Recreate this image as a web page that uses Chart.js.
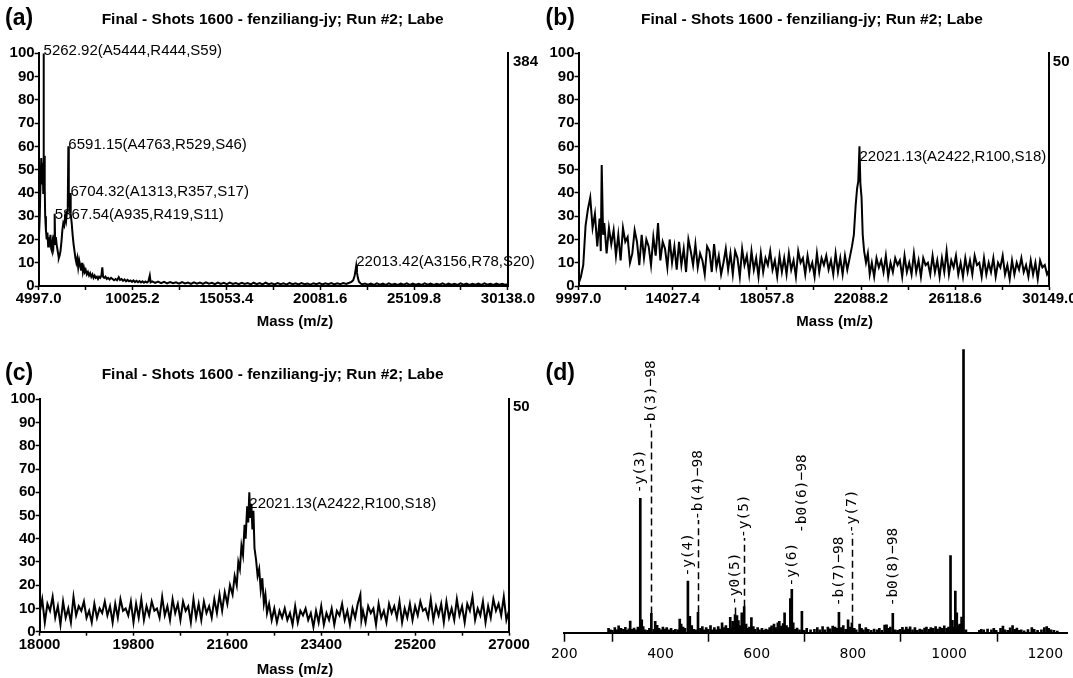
<!DOCTYPE html>
<html lang="en">
<head>
<meta charset="UTF-8" />
<title>MALDI-TOF spectra (a)-(d)</title>
<script src="https://cdn.jsdelivr.net/npm/chart.js"></script>
<style>
  body { margin: 0; background: #fff; }
  #wrap { position: relative; width: 1073px; height: 678px; overflow: hidden; background: #fff; }
  canvas { position: absolute; }
</style>
</head>
<body>
<div id="wrap">
  <canvas id="chartA" width="540" height="330" style="left:0;top:0"></canvas>
  <canvas id="chartB" width="543" height="330" style="left:530px;top:0"></canvas>
  <canvas id="chartC" width="540" height="348" style="left:0;top:330px"></canvas>
  <canvas id="chartD" width="543" height="348" style="left:530px;top:330px"></canvas>
</div>
<script>
const FONT = '"Liberation Sans", Arial, sans-serif';
const TITLE = 'Final - Shots 1600 - fenziliang-jy; Run #2; Labe';

// ---- panel (a) ----
const massA = [
  5000,5010,5060,5100,5140,5180,5215,5245,5263,5280,
  5300,5325,5350,5390,5430,5470,5510,5550,5590,5630,
  5670,5710,5750,5790,5830,5850,5867,5885,5920,5960,
  6000,6040,6080,6120,6170,6220,6270,6320,6370,6420,
  6470,6520,6560,6591,6615,6650,6680,6704,6730,6770,
  6820,6870,6920,6970,7020,7070,7120,7170,7220,7270,
  7320,7370,7420,7470,7520,7580,7640,7700,7760,7820,
  7880,7940,8000,8060,8120,8180,8240,8300,8360,8410,
  8450,8510,8580,8650,8720,8800,8880,8960,9040,9120,
  9200,9290,9360,9440,9520,9600,9680,9760,9840,9920,
  10000,10080,10160,10240,10320,10400,10480,10560,10640,10720,
  10800,10880,10954,11000,11080,11240,11400,11560,11720,11880,
  12040,12200,12360,12520,12680,12840,13000,13160,13320,13480,
  13640,13800,13960,14120,14280,14440,14600,14760,14920,15080,
  15240,15400,15560,15720,15880,16040,16200,16360,16520,16680,
  16840,17000,17160,17320,17480,17640,17800,17960,18120,18280,
  18440,18600,18760,18920,19080,19240,19400,19560,19720,19880,
  20040,20200,20360,20520,20680,20840,21000,21160,21320,21480,
  21640,21760,21850,21930,21980,22013,22050,22100,22160,22240,
  22320,22480,22640,22800,22960,23120,23280,23440,23600,23760,
  23920,24080,24240,24400,24560,24720,24880,25040,25200,25360,
  25520,25680,25840,26000,26160,26320,26480,26640,26800,26960,
  27120,27280,27440,27600,27760,27920,28080,28240,28400,28560,
  28720,28880,29040,29200,29360,29520,29680,29840,30000,30138
];
const intA = [
  0,20,30,45,55,44,53,40,100,48,
  56,42,30,24,20,23,17,21,18,22,
  16,15,19,17,22,20,31,18,21,18,
  16,14,12,13,15,19,24,27,26,30,
  28,32,35,60,34,37,33,40,31,27,
  22,18,15,12,10,12,8,11,9,7,
  10,6,8,6,7,5,6,4.5,5.5,4,
  5,3.5,4.5,3.5,4,3,4,3.5,4.5,8,
  4,3.5,4,3,3.5,2.8,3.5,3,2.5,3,
  2.5,3.8,2.6,3,2.2,2.8,2,2.6,2,2.4,
  1.8,2.4,1.7,2.2,1.6,2.1,1.5,2,1.4,1.9,
  1.5,2,4.5,1.6,2,1.3,1.9,1.2,1.8,1.1,
  1.7,1.2,1.6,1.0,1.7,1.1,1.5,0.9,1.6,1.0,
  1.5,0.9,1.6,1.0,1.4,0.8,1.5,0.9,1.4,0.8,
  1.5,0.9,1.3,0.8,1.4,0.9,1.3,0.7,1.4,0.8,
  1.3,0.7,1.4,0.8,1.2,0.7,1.3,0.8,1.2,0.6,
  1.3,0.8,1.2,0.7,1.3,0.8,1.1,0.6,1.2,0.8,
  1.3,0.7,1.2,0.8,1.3,0.7,1.2,0.8,1.3,0.9,
  1.4,1.8,2.5,4.5,7,8.7,6,3.5,1.8,1.2,
  0.7,1.1,0.6,1.0,0.5,1.1,0.6,1.0,0.5,1.1,
  0.6,0.9,0.5,1.0,0.6,1.1,0.5,1.0,0.6,0.9,
  0.5,1.1,0.6,1.0,0.5,0.9,0.6,1.1,0.5,1.0,
  0.6,0.9,0.5,1.1,0.6,1.0,0.5,0.9,0.6,1.0,
  0.5,1.1,0.6,0.9,0.5,1.0,0.6,0.9,0.5,0.8
];
const ticksA = [4997.0, 10025.2, 15053.4, 20081.6, 25109.8, 30138.0];
const peakMassA = [5262.92, 6591.15, 6704.32, 5867.54, 22013.42];
const peakLevelA = [101, 60.6, 40.4, 30.5, 10.4];
const peakTextA = ['5262.92(A5444,R444,S59)', '6591.15(A4763,R529,S46)', '6704.32(A1313,R357,S17)',
                   '5867.54(A935,R419,S11)', '22013.42(A3156,R78,S20)'];

// ---- panel (b) ----
const massB = [
  10000,10100,10200,10300,10400,10500,10600,10700,10800,10900,
  10950,10990,11050,11100,11200,11300,11400,11500,11600,11700,
  11800,11900,12000,12100,12200,12300,12400,12500,12600,12700,
  12800,12900,13000,13100,13200,13300,13400,13500,13600,13700,
  13800,13900,14000,14100,14200,14300,14400,14500,14600,14700,
  14800,14900,15000,15100,15200,15300,15400,15500,15600,15700,
  15800,15900,16000,16100,16200,16300,16400,16500,16600,16700,
  16800,16900,17000,17100,17200,17300,17400,17500,17600,17700,
  17800,17900,18000,18100,18200,18300,18400,18500,18600,18700,
  18800,18900,19000,19100,19200,19300,19400,19500,19600,19700,
  19800,19900,20000,20100,20200,20300,20400,20500,20600,20700,
  20800,20900,21000,21100,21200,21300,21400,21500,21600,21700,
  21780,21860,21920,21970,22021,22060,22110,22160,22220,22300,
  22380,22460,22550,22650,22750,22850,22950,23050,23150,23250,
  23350,23450,23550,23650,23750,23850,23950,24050,24150,24250,
  24350,24450,24550,24650,24750,24850,24950,25050,25150,25250,
  25350,25450,25550,25650,25750,25850,25950,26050,26150,26250,
  26350,26450,26550,26650,26750,26850,26950,27050,27150,27250,
  27350,27450,27550,27650,27750,27850,27950,28050,28150,28250,
  28350,28450,28550,28650,28750,28850,28950,29050,29150,29250,
  29350,29450,29550,29650,29750,29850,29950,30050,30149
];
const intB = [
  1,4,9,26,33,38,25,31,17,29,
  15,52,22,27,14,25,18,24,13,22,
  11,25,19,21,10,14,24,19,9,22,
  12,20,17,9,21,13,27,11,19,16,
  8,20,10,17,7,19,9,16,6,20,
  15,9,18,8,14,11,5,17,15,6,
  18,8,13,5,10,16,7,14,5,15,
  12,4,16,9,13,5,15,7,12,4,
  14,6,12,9,15,7,11,4,13,6,
  12,5,14,7,11,4,15,10,12,5,
  13,7,10,4,14,6,12,9,13,7,
  11,5,14,6,12,5,13,7,12,17,
  22,35,42,45,60,44,38,22,15,10,
  14,5,10,4,12,8,11,6,13,4,
  10,6,12,9,11,4,13,6,10,5,
  14,6,11,4,12,9,10,5,13,6,
  11,4,12,6,15,5,11,8,13,5,
  10,4,12,6,11,5,13,9,10,4,
  12,5,10,6,12,4,10,8,13,5,
  9,3,11,5,10,7,12,6,9,4,
  11,5,10,3,11,8,9,5,7
];
const ticksB = [9997.0, 14027.4, 18057.8, 22088.2, 26118.6, 30149.0];
const peakMassB = [22021.13];
const peakLevelB = [55.5];
const peakTextB = ['22021.13(A2422,R100,S18)'];

// ---- panel (c) ----
const massC = [
  18000,18050,18100,18150,18200,18250,18300,18350,18400,18450,
  18500,18550,18600,18650,18700,18750,18800,18850,18900,18950,
  19000,19050,19100,19150,19200,19250,19300,19350,19400,19450,
  19500,19550,19600,19650,19700,19750,19800,19850,19900,19950,
  20000,20050,20100,20150,20200,20250,20300,20350,20400,20450,
  20500,20550,20600,20650,20700,20750,20800,20850,20900,20950,
  21000,21050,21100,21150,21200,21250,21300,21350,21400,21450,
  21500,21550,21600,21650,21700,21740,21780,21810,21840,21870,
  21900,21930,21950,21980,22000,22021,22040,22060,22080,22100,
  22120,22150,22180,22210,22240,22270,22300,22330,22360,22400,
  22450,22500,22550,22600,22650,22700,22750,22800,22850,22900,
  22950,23000,23050,23100,23150,23200,23250,23300,23350,23400,
  23450,23500,23550,23600,23650,23700,23750,23800,23850,23900,
  23950,24000,24050,24100,24150,24170,24200,24250,24300,24350,
  24400,24450,24500,24550,24600,24650,24700,24750,24800,24850,
  24900,24950,25000,25050,25100,25150,25200,25250,25300,25350,
  25400,25450,25500,25550,25600,25650,25700,25750,25800,25850,
  25900,25950,26000,26050,26100,26150,26200,26250,26300,26350,
  26400,26450,26500,26550,26600,26650,26700,26750,26800,26850,
  26900,26950,27000
];
const intC = [
  8,14,4,12,9,15,6,11,3,13,
  6,10,4,15,7,11,9,13,6,9,
  4,12,6,10,8,13,7,11,4,12,
  6,14,9,10,7,13,4,12,6,14,
  5,11,7,13,9,10,6,15,7,11,
  5,14,8,12,5,13,9,11,4,14,
  6,12,5,13,8,11,6,14,8,16,
  9,17,12,20,16,24,20,30,27,37,
  33,46,40,54,47,60,49,55,44,52,
  36,31,24,27,18,23,12,16,8,12,
  5,10,4,9,6,10,5,8,3,11,
  4,9,7,10,5,8,2,9,4,11,
  3,8,5,10,3,9,7,12,5,9,
  3,10,6,12,16,5,9,4,11,8,
  10,3,12,6,9,4,12,8,11,6,
  13,4,10,6,12,5,11,7,13,9,
  10,6,14,5,11,7,12,4,13,6,
  10,5,14,7,11,4,12,9,15,5,
  10,7,13,4,11,6,14,9,12,7,
  15,5,9
];
const ticksC = [18000, 19800, 21600, 23400, 25200, 27000];
const peakMassC = [22021.13];
const peakLevelC = [55.2];
const peakTextC = ['22021.13(A2422,R100,S18)'];

// ---- panel (d): MS/MS stick spectrum ----
const massD = [
  292,296,300,305,309,313,318,323,327,331,
  334,337,341,345,349,353,358,361,364,368,
  373,377,381,386,389,393,397,401,405,409,
  413,418,422,427,431,436,440,443,447,451,
  457,461,465,469,473,478,483,487,491,495,
  499,504,508,512,516,520,524,528,532,536,
  540,545,548,550,555,559,562,566,569,574,
  578,582,585,589,593,597,602,606,611,615,
  619,623,627,631,636,640,644,647,651,655,
  658,662,666,670,673,676,680,684,689,694,
  699,704,712,720,726,731,737,742,748,753,
  758,763,767,771,776,780,785,790,794,798,
  803,807,814,818,822,827,832,838,844,850,
  855,860,866,870,874,878,883,888,893,898,
  903,907,911,915,919,924,929,934,939,944,
  949,953,958,962,967,972,976,981,986,990,
  995,999,1003,1007,1010,1013,1016,1019,1022,1026,
  1030,1035,1063,1067,1072,1080,1088,1093,1098,1107,
  1112,1116,1122,1127,1132,1137,1141,1145,1150,1156,
  1164,1172,1177,1184,1192,1198,1203,1207,1212,1218,
  1225
];
const intD = [
  1.5,1,0.8,1.8,1,2.4,1.5,1.2,1.9,0.8,
  1.4,4.1,1.2,1.6,1,2,47.4,4.5,2.2,1,
  0.8,1.5,6.8,1.2,4,2.6,1.5,1,2,1.3,
  1.8,1,1.5,0.8,1.2,1,4.8,3,2,1.5,
  18.2,5.8,2.5,1.2,1,7.2,1.5,2.2,1,1.8,
  1.2,2.5,1,1.8,1,2.2,1.3,3.5,1.8,2.5,
  1.5,5.4,2,4,6.4,6,4.3,2.5,7,9.2,
  3,1.5,2,5.3,2.2,1.2,1.8,1,1.5,0.8,
  1.3,1,1.8,2.4,3,1.8,3.5,4,2.3,3.2,
  7,2.5,1.8,12,15.3,3.5,1.2,1.6,1,7.5,
  0.8,1.5,1,1.2,1.8,1,2.2,1,2,1.4,
  2.3,2,1.5,7.2,1.8,2.5,1.2,4.5,2,3.5,
  1.5,1,3,1.5,1,1.8,1.2,0.8,1.3,1,
  1.5,0.8,2.7,2.8,1.5,2,6.8,1,0.8,1.2,
  1.9,1,2,1.3,2.1,1,1.8,0.8,1.3,1,
  1.6,2,1.2,1.8,1.5,2.2,1.3,2,1.5,2.4,
  1.5,2,27.2,4.4,2,14.7,7,2.5,3,5.5,
  100,1,0.8,1.2,1,1.3,1,1.5,0.8,1.5,
  2.3,1,0.8,1.7,2.5,1.2,1.6,0.8,1,0.7,
  1.1,1.8,1.2,0.8,1,1.8,2.2,1.5,1,0.8,
  0.6
];
const ticksD = [200, 300, 400, 500, 600, 700, 800, 900, 1000, 1100, 1200];
const labelTicksD = [200, 400, 600, 800, 1000, 1200];
const fragText = ['-y(3)', '-b(3)\u221298', '-y(4)', '-b(4)\u221298', '-y0(5)', '-y(5)',
                  '-y(6)', '-b0(6)\u221298', '-b(7)\u221298', '-y(7)', '-b0(8)\u221298'];
const fragMass = [358, 381, 457, 478, 555, 574, 673, 694, 771, 798, 883];
const fragLevel = [49.2, 71.5, 19.8, 39.8, 9.8, 33.4, 16.3, 35.2, 9.3, 35.1, 9.3];
const fragLeader = [false, true, false, true, true, true, false, false, false, true, false];

function xy(ms, ys) { return ms.map((m, i) => ({ x: m, y: ys[i] })); }

// titles, panel letters, axis titles and peak annotations
function panelText(spec) {
  return {
    id: 'panelText',
    afterDraw(chart) {
      const ctx = chart.ctx;
      const sx = chart.scales.x, sy = chart.scales.y;
      ctx.save();
      ctx.fillStyle = '#000';
      ctx.textBaseline = 'middle';
      ctx.textAlign = 'left';
      ctx.font = 'bold 23px ' + FONT;
      ctx.fillText(spec.letter[0], spec.letter[1], spec.letter[2]);
      if (spec.title) {
        ctx.textAlign = 'center';
        ctx.font = 'bold 15.5px ' + FONT;
        ctx.fillText(spec.title[0], spec.title[1], spec.title[2]);
      }
      if (spec.axisTitle) {
        ctx.textAlign = 'center';
        ctx.font = 'bold 15px ' + FONT;
        ctx.fillText(spec.axisTitle[0], spec.axisTitle[1], spec.axisTitle[2]);
      }
      if (spec.maxLabel) {
        ctx.textAlign = 'left';
        ctx.font = 'bold 15px ' + FONT;
        ctx.fillText(spec.maxLabel[0], spec.maxLabel[1], spec.maxLabel[2]);
      }
      if (spec.peaks) {
        ctx.textAlign = 'left';
        ctx.font = '15px ' + FONT;
        spec.peaks.mass.forEach((m, i) => {
          ctx.fillText(spec.peaks.text[i], sx.getPixelForValue(m), sy.getPixelForValue(spec.peaks.level[i]));
        });
      }
      ctx.restore();
    }
  };
}

function spectrumChart(id, masses, ints, ticks, decimals, g, spec) {
  const allTicks = [];
  ticks.forEach((t, i) => {
    allTicks.push(t);
    if (i < ticks.length - 1) allTicks.push((t + ticks[i + 1]) / 2);
  });
  const tickFont = { family: FONT, size: 15, weight: 'bold' };
  return new Chart(document.getElementById(id), {
    type: 'line',
    data: { datasets: [{ data: xy(masses, ints), borderColor: '#000', borderWidth: 2,
                         pointRadius: 0, tension: 0, fill: false }] },
    options: {
      responsive: false, animation: false, events: [],
      layout: { padding: { top: g.top, left: 0, right: 0, bottom: 0 } },
      plugins: { legend: { display: false }, tooltip: { enabled: false }, title: { display: false } },
      scales: {
        x: {
          type: 'linear', min: ticks[0], max: ticks[ticks.length - 1],
          afterBuildTicks: s => { s.ticks = allTicks.map(v => ({ value: v })); },
          afterFit: s => { s.height = g.xh; s.paddingLeft = 0; s.paddingRight = 0; },
          ticks: { autoSkip: false, maxRotation: 0, padding: 0, color: '#000', font: tickFont,
                   callback: (v, i) => i % 2 === 0 ? v.toFixed(decimals) : '' },
          grid: { drawOnChartArea: false, tickLength: 4, tickWidth: 1.5, tickColor: '#000' },
          border: { color: '#000', width: 2 }
        },
        y: {
          type: 'linear', position: 'left', min: 0, max: 100,
          afterFit: s => { s.width = g.yw; s.paddingTop = 0; s.paddingBottom = 0; },
          ticks: { stepSize: 10, padding: 0, color: '#000', font: tickFont },
          grid: { drawOnChartArea: false, tickLength: 4, tickWidth: 1.5, tickColor: '#000' },
          border: { color: '#000', width: 2 }
        },
        y1: {
          type: 'linear', position: 'right', min: 0, max: 100,
          afterFit: s => { s.width = g.y1w; s.paddingTop = 0; s.paddingBottom = 0; },
          ticks: { display: false },
          grid: { drawOnChartArea: false, drawTicks: false },
          border: { color: '#000', width: 2 }
        }
      }
    },
    plugins: [panelText(spec)]
  });
}

spectrumChart('chartA', massA, intA, ticksA, 1, { top: 53.3, yw: 38.6, y1w: 32.1, xh: 44 }, {
  letter: ['(a)', 5, 18.5], title: [TITLE, 272.6, 20], axisTitle: ['Mass (m/z)', 295, 322],
  maxLabel: ['384', 513, 61.7], peaks: { mass: peakMassA, level: peakLevelA, text: peakTextA }
});
spectrumChart('chartB', massB, intB, ticksB, 1, { top: 53.3, yw: 48.5, y1w: 23.6, xh: 44 }, {
  letter: ['(b)', 15.6, 18.5], title: [TITLE, 282, 20], axisTitle: ['Mass (m/z)', 304.7, 322],
  maxLabel: ['50', 522.8, 61.7], peaks: { mass: peakMassB, level: peakLevelB, text: peakTextB }
});
spectrumChart('chartC', massC, intC, ticksC, 0, { top: 69.3, yw: 39.6, y1w: 31, xh: 46.3 }, {
  letter: ['(c)', 5, 43.3], title: [TITLE, 272.6, 45], axisTitle: ['Mass (m/z)', 295, 340],
  maxLabel: ['50', 513, 77.3], peaks: { mass: peakMassC, level: peakLevelC, text: peakTextC }
});

// fragment labels drawn rotated above their sticks
const fragLabels = {
  id: 'fragLabels',
  afterDatasetsDraw(chart) {
    const { ctx, scales: { x, y } } = chart;
    ctx.save();
    ctx.fillStyle = '#000';
    ctx.strokeStyle = '#000';
    ctx.lineWidth = 1.5;
    ctx.font = '14.5px "DejaVu Sans Mono", monospace';
    fragMass.forEach((m, i) => {
      const px = Math.round(x.getPixelForValue(m)) + 0.5;
      const top = y.getPixelForValue(intD[massD.indexOf(m)]);
      const base = y.getPixelForValue(fragLevel[i]);
      if (fragLeader[i]) {
        ctx.setLineDash([7, 4]);
        ctx.beginPath();
        ctx.moveTo(px, top);
        ctx.lineTo(px, base);
        ctx.stroke();
        ctx.setLineDash([]);
      }
      ctx.save();
      ctx.translate(px, base);
      ctx.rotate(-Math.PI / 2);
      ctx.textAlign = 'left';
      ctx.textBaseline = 'middle';
      ctx.fillText(fragText[i], 0, 0);
      ctx.restore();
    });
    ctx.restore();
  }
};

new Chart(document.getElementById('chartD'), {
  type: 'bar',
  data: { datasets: [{ data: xy(massD, intD), backgroundColor: '#000', borderWidth: 0, barThickness: 2 }] },
  options: {
    responsive: false, animation: false, events: [],
    layout: { padding: { top: 19.3, left: 34.3, right: 5.6, bottom: 0 } },
    plugins: { legend: { display: false }, tooltip: { enabled: false } },
    scales: {
      x: {
        type: 'linear', min: 200, max: 1246, offset: false,
        afterBuildTicks: s => { s.ticks = ticksD.map(v => ({ value: v })); },
        afterFit: s => { s.height = 45.3; s.paddingLeft = 0; s.paddingRight = 0; },
        ticks: { autoSkip: false, maxRotation: 0, padding: 4, color: '#000',
                 font: { family: '"DejaVu Sans", sans-serif', size: 14 },
                 callback: v => labelTicksD.includes(v) ? String(v) : '' },
        grid: { drawOnChartArea: false, offset: false, tickLength: 9, tickWidth: 1.5,
                tickColor: c => (c.tick && labelTicksD.includes(c.tick.value) && c.tick.value !== 200) ? 'rgba(0,0,0,0)' : '#000' },
        border: { color: '#000', width: 2 }
      },
      y: { display: false, min: 0, max: 100 }
    }
  },
  plugins: [fragLabels, panelText({ letter: ['(d)', 15.6, 43.3] })]
});
</script>
</body>
</html>
